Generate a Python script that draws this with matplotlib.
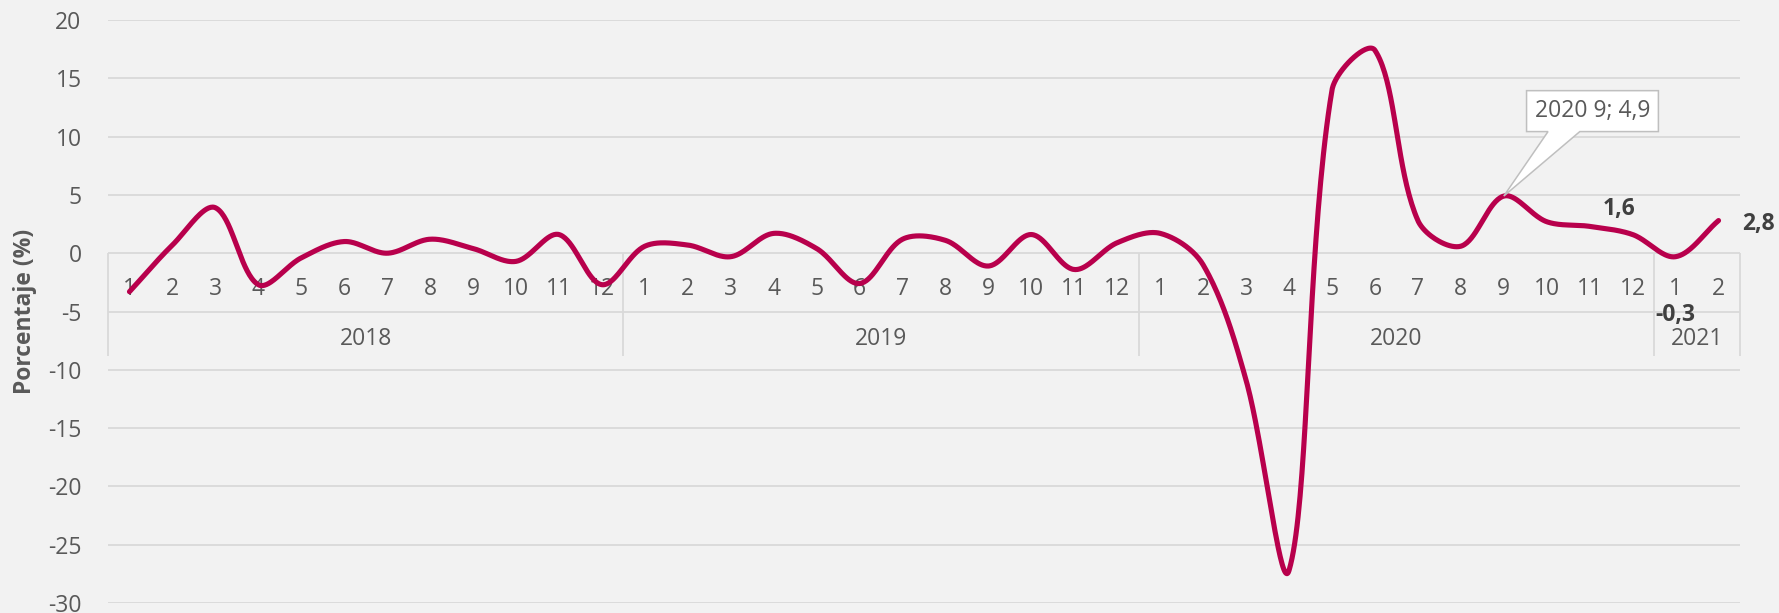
import numpy as np
import matplotlib
matplotlib.use("Agg")
import matplotlib.pyplot as plt
from matplotlib.patches import Polygon

# ---------------- data ----------------
years = ["2018", "2019", "2020", "2021"]
months_per_year = [12, 12, 12, 2]
v2018 = [-3.3, 0.7, 3.9, -2.7, -0.4, 1.0, 0.0, 1.2, 0.4, -0.7, 1.6, -2.7]
v2019 = [0.6, 0.7, -0.3, 1.7, 0.4, -2.6, 1.2, 1.1, -1.1, 1.6, -1.4, 0.9]
v2020 = [1.7, -1.0, -10.9, -27.2, 14.0, 17.4, 2.8, 0.6, 4.9, 2.7, 2.3, 1.6]
v2021 = [-0.3, 2.8]
y_ticks = [-30, -25, -20, -15, -10, -5, 0, 5, 10, 15, 20]
y_label = "Porcentaje (%)"
callout_text = "2020 9; 4,9"
label_1 = "1,6"
label_2 = "-0,3"
label_3 = "2,8"

values = np.array(v2018 + v2019 + v2020 + v2021)
month_labels = [str(m + 1) for n in months_per_year for m in range(n)]
x = np.arange(len(values), dtype=float)

# ---------------- style ----------------
BG = "#F2F2F2"
GRID = "#D9D9D9"
TXT = "#595959"
DARK = "#404040"
LINE = "#B8004C"
FONT = "Open Sans"
FS = 16.5

plt.rcParams["font.family"] = [FONT, "DejaVu Sans"]

W, H = 1779, 613
fig = plt.figure(figsize=(W / 100, H / 100), dpi=100, facecolor=BG)
ax_l, ax_r, ax_t, ax_b = 108, 1740, 20, 603
ax = fig.add_axes([ax_l / W, 1 - ax_b / H, (ax_r - ax_l) / W, (ax_b - ax_t) / H])
ax.set_facecolor(BG)
ax.set_xlim(-0.5, len(values) - 0.5)
ax.set_ylim(-30, 20)

for s in ax.spines.values():
    s.set_visible(False)
ax.set_xticks([])
ax.set_yticks(y_ticks)
ax.set_yticklabels([str(t) for t in y_ticks], fontsize=FS, color=TXT)
ax.tick_params(axis="y", length=0, pad=19)
ax.yaxis.grid(True, color=GRID, linewidth=1.3)
ax.set_axisbelow(True)

# ---------------- smooth line (Excel-like bezier) ----------------
sx = (ax_r - ax_l) / (len(values))
sy = (ax_b - ax_t) / 50.0


def smooth(xs, ys, n=40):
    P = np.column_stack([xs * sx, ys * sy])
    N = len(P)
    out = []
    t = np.linspace(0, 1, n)[:, None]
    for i in range(N - 1):
        p0 = P[i - 1] if i > 0 else P[i]
        p1, p2 = P[i], P[i + 1]
        p3 = P[i + 2] if i + 2 < N else P[i + 1]
        d01 = np.linalg.norm(p1 - p0)
        d12 = np.linalg.norm(p2 - p1)
        d23 = np.linalg.norm(p3 - p2)
        f1 = d12 / (d01 + d12) / 3 if d01 + d12 > 0 else 0
        f2 = d12 / (d12 + d23) / 3 if d12 + d23 > 0 else 0
        c1 = p1 + (p2 - p0) * f1
        c2 = p2 - (p3 - p1) * f2
        B = ((1 - t) ** 3) * p1 + 3 * ((1 - t) ** 2) * t * c1 + 3 * (1 - t) * t ** 2 * c2 + t ** 3 * p2
        out.append(B if i == 0 else B[1:])
    B = np.vstack(out)
    return B[:, 0] / sx, B[:, 1] / sy


xs_s, ys_s = smooth(x, values)
ax.plot(xs_s, ys_s, color=LINE, linewidth=3.7, solid_capstyle="round", zorder=5, clip_on=False)

# ---------------- category axis ----------------
for i, lab in enumerate(month_labels):
    ax.text(x[i], -3.06, lab, ha="center", va="center", fontsize=FS, color=TXT, zorder=3)

bounds = np.concatenate([[0], np.cumsum(months_per_year)]) - 0.5
ax.vlines(bounds, -8.8, 0, colors=GRID, linewidth=1.3, zorder=2, clip_on=False)
for k, yr in enumerate(years):
    cx = (bounds[k] + bounds[k + 1]) / 2
    ax.text(cx, -7.35, yr, ha="center", va="center", fontsize=FS, color=TXT, zorder=3)

# ---------------- labels ----------------
fig.text(25 / W, 1 - 311.5 / H, y_label, rotation=90, ha="center", va="center",
         fontsize=FS, fontweight="bold", color=TXT)

ax.text(34.68, 3.8, label_1, ha="center", va="center", fontsize=FS, fontweight="bold", color=DARK, zorder=6)
ax.text(36.0, -5.29, label_2, ha="center", va="center", fontsize=FS, fontweight="bold", color=DARK, zorder=6)
ax.text(37.56, 2.5, label_3, ha="left", va="center", fontsize=FS, fontweight="bold", color=DARK,
        zorder=6, clip_on=False)

# callout
tip = (x[32], values[32])
bx0, bx1, by0, by1 = 32.53, 35.6, 10.43, 13.94
poly = Polygon([(bx0, by0), (33.03, by0), tip, (33.77, by0), (bx1, by0), (bx1, by1), (bx0, by1)],
               closed=True, facecolor="white", edgecolor="#BFBFBF", linewidth=1.1, zorder=7)
ax.add_patch(poly)
ax.text((bx0 + bx1) / 2, (by0 + by1) / 2, callout_text, ha="center", va="center",
        fontsize=FS, color=TXT, zorder=8)

fig.savefig("out.png", dpi=100, facecolor=BG)
